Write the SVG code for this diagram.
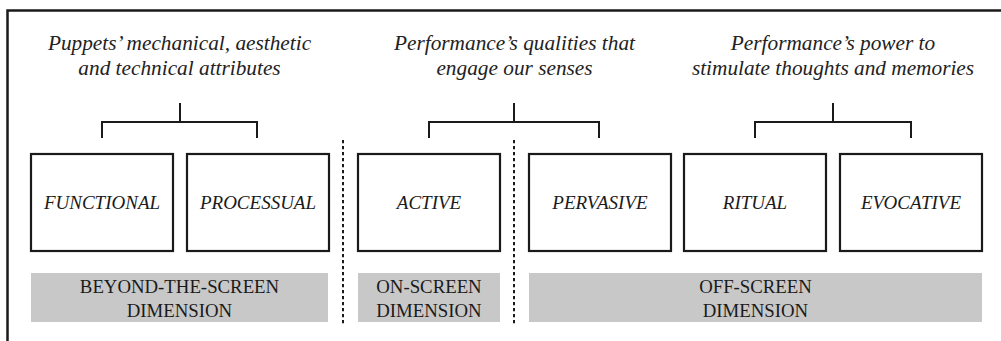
<svg xmlns="http://www.w3.org/2000/svg" width="1001" height="341" viewBox="0 0 1001 341">
  <style>
    .frame { fill: none; stroke: #1a1a1a; stroke-width: 2.5; }
    .box { fill: #ffffff; stroke: #1a1a1a; stroke-width: 2.2; }
    .band { fill: #c8c8c8; }
    .label { font-family: "Liberation Serif", serif; font-style: italic; font-size: 19px; fill: #1a1a1a; text-anchor: middle; }
    .title { font-family: "Liberation Serif", serif; font-style: italic; font-size: 21.3px; fill: #222222; text-anchor: middle; }
    .dim { font-family: "Liberation Serif", serif; font-size: 18.8px; fill: #1a1a1a; text-anchor: middle; }
    .bracket { fill: none; stroke: #1a1a1a; stroke-width: 2; }
    .divider { stroke: #1a1a1a; stroke-width: 2; stroke-dasharray: 3.3 2.7; }
  </style>

  <rect class="frame" x="7.5" y="10.5" width="1010" height="345"/>

  <!-- group headings -->
  <g id="heading-puppets">
    <text class="title" x="179.5" y="50">Puppets’ mechanical, aesthetic</text>
    <text class="title" x="179.5" y="75">and technical attributes</text>
  </g>
  <g id="heading-senses">
    <text class="title" x="514.5" y="50">Performance’s qualities that</text>
    <text class="title" x="514.5" y="75">engage our senses</text>
  </g>
  <g id="heading-thoughts">
    <text class="title" x="833" y="50">Performance’s power to</text>
    <text class="title" x="833" y="75">stimulate thoughts and memories</text>
  </g>

  <!-- connectors: brackets and dotted dividers -->
  <g id="connectors">
    <path class="bracket" d="M180 103 V122 M102 138 V122 H257 V138"/>
    <path class="bracket" d="M514 103 V122 M429 138 V122 H599 V138"/>
    <path class="bracket" d="M833 103 V122 M755 138 V122 H911 V138"/>
    <line class="divider" x1="343" y1="140" x2="343" y2="326"/>
    <line class="divider" x1="514" y1="140" x2="514" y2="326"/>
  </g>

  <!-- attribute boxes -->
  <g id="functional">
    <rect class="box" x="31" y="154" width="142" height="97"/>
    <text class="label" x="102" y="209">FUNCTIONAL</text>
  </g>
  <g id="processual">
    <rect class="box" x="187" y="154" width="142" height="97"/>
    <text class="label" x="258" y="209">PROCESSUAL</text>
  </g>
  <g id="active">
    <rect class="box" x="358" y="154" width="142" height="97"/>
    <text class="label" x="429" y="209">ACTIVE</text>
  </g>
  <g id="pervasive">
    <rect class="box" x="529" y="154" width="142" height="97"/>
    <text class="label" x="600" y="209">PERVASIVE</text>
  </g>
  <g id="ritual">
    <rect class="box" x="684" y="154" width="142" height="97"/>
    <text class="label" x="755" y="209">RITUAL</text>
  </g>
  <g id="evocative">
    <rect class="box" x="840" y="154" width="142" height="97"/>
    <text class="label" x="911" y="209">EVOCATIVE</text>
  </g>

  <!-- dimension bands -->
  <g id="beyond-the-screen">
    <rect class="band" x="31" y="273" width="297" height="49"/>
    <text class="dim" x="179.5" y="293">BEYOND-THE-SCREEN</text>
    <text class="dim" x="179.5" y="317">DIMENSION</text>
  </g>
  <g id="on-screen">
    <rect class="band" x="358" y="273" width="142" height="49"/>
    <text class="dim" x="429" y="293">ON-SCREEN</text>
    <text class="dim" x="429" y="317">DIMENSION</text>
  </g>
  <g id="off-screen">
    <rect class="band" x="529" y="273" width="453" height="49"/>
    <text class="dim" x="755.5" y="293">OFF-SCREEN</text>
    <text class="dim" x="755.5" y="317">DIMENSION</text>
  </g>
</svg>
